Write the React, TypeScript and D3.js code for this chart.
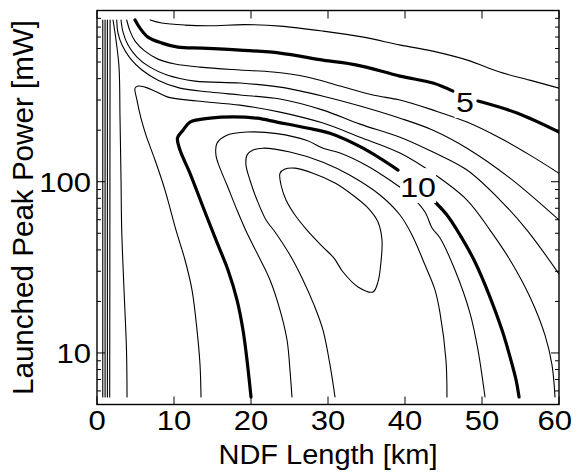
import React from "react";
import * as d3 from "d3";

type Pt = [number, number]; // [NDF length km, launched peak power mW]

// ---- axis ticks ----
const xTicks = [0, 10, 20, 30, 40, 50, 60];
const yMajorTicks = [10, 100, 1000];
const yLabelTicks = [10, 100];
const yMinorTicks = [5, 6, 7, 8, 9, 20, 30, 40, 50, 60, 70, 80, 90, 200, 300, 400, 500, 600, 700, 800, 900];

const contourA: Pt[] = [[6.9, 880], [8.4, 845], [11.4, 822], [14.7, 815], [19.2, 827], [23.8, 811], [29.4, 758], [34.6, 699], [39.4, 628], [43.6, 579], [48.1, 513], [52.3, 437], [56.2, 392], [60, 352]];
const contour5a: Pt[] = [[4.94, 880], [5.58, 789], [6.62, 699], [8.44, 645], [10.52, 611], [13.64, 603], [18.57, 587], [23.77, 564], [29.35, 513], [33.77, 480], [39.35, 414], [43.64, 377], [46.23, 338]];
const contour5b: Pt[] = [[49.48, 296], [54.55, 252], [60, 195]];
const contour6: Pt[] = [[3.86, 880], [4.29, 758], [4.94, 663], [6.23, 579], [7.92, 520], [10.13, 487], [13.38, 467], [18.57, 449], [22.86, 437], [27.27, 409], [31.56, 362], [35.84, 321], [39.35, 300], [43.64, 262], [48.05, 223], [52.34, 180], [56.23, 143], [60, 112]];
const contour7: Pt[] = [[3.12, 880], [3.38, 748], [4.03, 628], [5.19, 535], [6.88, 467], [9.09, 420], [12.73, 387], [18.57, 377], [23.77, 357], [29.35, 316], [34.16, 277], [39.35, 235], [43.64, 200], [48.05, 157], [53.64, 105], [60, 59.8]];
const contour8: Pt[] = [[2.56, 880], [2.73, 738], [3.25, 628], [4.29, 527], [5.84, 449], [7.92, 392], [10.78, 352], [14.68, 334], [18.57, 321], [23.77, 304], [29.35, 262], [34.16, 217], [39.35, 182], [43.64, 149], [48.05, 117], [52.34, 78.2], [55.84, 52.2], [60, 28.9]];
const contour9: Pt[] = [[13.51, 5.53], [13.38, 8.51], [12.99, 13.6], [12.34, 23.3], [11.43, 34.9], [10.26, 52.2], [8.83, 89.4], [7.53, 134], [6.36, 187], [5.71, 235], [5.19, 300], [4.94, 352], [5.32, 362], [6.23, 357], [7.53, 338], [9.22, 312], [12.99, 296], [18.57, 280], [23.77, 255], [29.35, 220], [34.16, 182], [39.35, 147], [43.64, 112], [48.05, 78.2], [51.04, 52.2], [53.64, 34.9], [56.23, 21.2], [58.18, 12.7], [59.09, 8.51], [59.48, 5.53]];
const contour10a: Pt[] = [[20, 5.53], [19.48, 9.1], [18.96, 13.6], [18.18, 20.4], [17.01, 30.5], [15.45, 45.7], [13.77, 71.2], [12.08, 112], [10.78, 153], [10.45, 180], [11.17, 200], [12.08, 223], [14.68, 235], [17.66, 239], [20.78, 235], [23.38, 223], [27.27, 206], [30.26, 192], [34.55, 157], [39.09, 117]];
const contour10b: Pt[] = [[43.64, 78.2], [45.45, 63.9], [47.14, 48.9], [49.09, 34], [51.04, 21.2], [52.6, 13.6], [53.64, 9.48], [54.42, 6.96], [54.81, 5.53]];
const contour11: Pt[] = [[25.32, 5.53], [25.06, 7.96], [24.68, 11.9], [23.77, 17.8], [22.47, 26.7], [20.91, 37.3], [19.48, 50.2], [18.18, 68.4], [16.88, 95.7], [15.97, 120], [15.45, 143], [15.58, 168], [16.88, 187], [19.48, 195], [23.38, 191], [27.27, 174], [29.35, 157], [31.56, 147], [35.06, 124], [38.05, 102], [40.65, 83.6], [42.6, 66.6], [43.51, 53.7], [44.55, 46.9], [46.49, 30.5], [48.44, 17.1], [49.48, 10.4], [50.39, 5.53]];
const contour12: Pt[] = [[30.91, 5.53], [30.26, 8.51], [29.35, 13.6], [28.18, 19.1], [26.75, 26.7], [25.06, 37.3], [23.12, 50.9], [21.95, 59.8], [20.78, 78.2], [19.87, 102], [19.35, 125], [19.48, 143], [20.26, 153], [21.56, 157], [25.06, 149], [29.35, 130], [32.86, 109], [36.75, 83.6], [39.35, 63.9], [40.91, 48.9], [42.6, 32.6], [43.9, 23.3], [44.55, 17.1], [45.32, 9.1], [45.45, 5.53]];
const contour13: Pt[] = [[23.77, 112], [23.9, 95.7], [24.55, 78.2], [25.71, 63.9], [27.27, 52.2], [29.22, 42.1], [30.78, 35.8], [31.95, 29.7], [33.9, 24.3], [35.84, 22.7], [36.49, 26], [36.88, 34], [37.01, 45.7], [36.49, 58.2], [35.06, 71.2], [32.86, 85.9], [30.91, 98.3], [28.05, 112], [25.71, 120], [24.42, 118.6]];
const contourLeft: Pt[] = [[2.08, 880], [2.47, 672], [2.86, 467], [2.99, 235], [3.12, 102], [3.21, 52.2], [3.51, 23.3], [3.83, 10.4], [3.9, 5.53]];
const clusterA: Pt[] = [[0.75, 880], [0.75, 5.53]];
const clusterB: Pt[] = [[1.05, 880], [1.05, 5.53]];
const clusterC: Pt[] = [[1.35, 880], [1.35, 5.53]];
const clusterD: Pt[] = [[1.7, 880], [1.65, 5.53]];

const thinLines = [contourA, contour6, contour7, contour8, contour9, contour11, contour12, contourLeft, clusterA, clusterB, clusterC, clusterD];
const thickLines = [contour5a, contour5b, contour10a, contour10b];
const closedLines = [contour13];

const contourLabelText = ["5", "10"];
const contourLabelKm = [47.8, 41.7];
const contourLabelMw = [292, 93];

const W = 577;
const H = 475;
const FONT = "'Liberation Sans', Arial, Helvetica, sans-serif";

export default function App() {
  const left = 97, right = 559, top = 10.5, bottom = 404.5;
  const x = d3.scaleLinear().domain([0, 60]).range([left, right]);
  const y = d3.scaleLog().domain([5, 1000]).range([bottom, top]);

  const line = d3.line<Pt>().x((d) => x(d[0])).y((d) => y(d[1])).curve(d3.curveCatmullRom.alpha(0.5));
  const closed = d3.line<Pt>().x((d) => x(d[0])).y((d) => y(d[1])).curve(d3.curveCatmullRomClosed.alpha(0.5));

  const fs = 27;
  const stretch = 1.15;

  return (
    <div style={{ position: "absolute", left: 0, top: 0 }}>
      <svg width={W} height={H} viewBox={`0 0 ${W} ${H}`} style={{ display: "block", background: "#fff" }} fontFamily={FONT}>
        <rect x={0} y={0} width={W} height={H} fill="#fff" />
        <defs>
          <clipPath id="plotclip">
            <rect x={left} y={top} width={right - left} height={bottom - top} />
          </clipPath>
        </defs>
        <g clipPath="url(#plotclip)" fill="none" stroke="#000" strokeLinejoin="round" strokeLinecap="round">
          {thinLines.map((d, i) => (
            <path key={"t" + i} d={line(d) || ""} strokeWidth={1.1} />
          ))}
          {closedLines.map((d, i) => (
            <path key={"c" + i} d={closed(d) || ""} strokeWidth={1.1} />
          ))}
          {thickLines.map((d, i) => (
            <path key={"k" + i} d={line(d) || ""} strokeWidth={3.2} />
          ))}
        </g>
        {contourLabelText.map((t, i) => {
          const cx = x(contourLabelKm[i]);
          const cy = y(contourLabelMw[i]);
          const w = t.length * 15 + 6;
          return (
            <g key={"lab" + i}>
              <rect x={cx - w / 2} y={cy - 19} width={w} height={35} fill="#fff" />
              <text transform={`translate(${cx},${cy + 10}) scale(${stretch},1)`} textAnchor="middle" fontSize={28} fill="#000">
                {t}
              </text>
            </g>
          );
        })}
        {/* frame */}
        <rect x={left} y={top} width={right - left} height={bottom - top} fill="none" stroke="#000" strokeWidth={1.4} />
        {/* ticks */}
        <g stroke="#000" strokeWidth={1}>
          {xTicks.map((v) => (
            <g key={"xt" + v}>
              <line x1={x(v)} x2={x(v)} y1={bottom} y2={bottom - 8} />
              <line x1={x(v)} x2={x(v)} y1={top} y2={top + 8} />
            </g>
          ))}
          {yMajorTicks.map((v) => (
            <g key={"ym" + v}>
              <line x1={left} x2={left + 8} y1={y(v)} y2={y(v)} />
              <line x1={right} x2={right - 8} y1={y(v)} y2={y(v)} />
            </g>
          ))}
          {yMinorTicks.map((v) => (
            <g key={"yn" + v}>
              <line x1={left} x2={left + 4} y1={y(v)} y2={y(v)} />
              <line x1={right} x2={right - 4} y1={y(v)} y2={y(v)} />
            </g>
          ))}
        </g>
        {/* tick labels */}
        {xTicks.map((v, i) => {
          const last = i === xTicks.length - 1;
          return (
            <text
              key={"xl" + v}
              transform={`translate(${last ? 572 : x(v)},430) scale(${stretch},1)`}
              textAnchor={last ? "end" : "middle"}
              fontSize={fs}
              fill="#000"
            >
              {v}
            </text>
          );
        })}
        {yLabelTicks.map((v) => (
          <text key={"yl" + v} transform={`translate(91,${y(v) + 10}) scale(${stretch},1)`} textAnchor="end" fontSize={fs} fill="#000">
            {v}
          </text>
        ))}
        {/* axis titles */}
        <text x={(left + right) / 2} y={464} textAnchor="middle" fontSize={27} fill="#000" textLength={219} lengthAdjust="spacingAndGlyphs">
          NDF Length [km]
        </text>
        <text transform={`translate(33,${(20 + 395) / 2}) rotate(-90)`} textAnchor="middle" fontSize={29} fill="#000" textLength={375} lengthAdjust="spacingAndGlyphs">
          Launched Peak Power [mW]
        </text>
      </svg>
    </div>
  );
}
